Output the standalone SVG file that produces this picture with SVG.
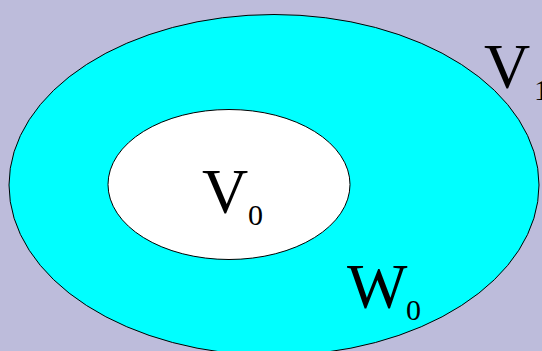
<svg xmlns="http://www.w3.org/2000/svg" width="542" height="351" viewBox="0 0 542 351">
<style>
.lbl{font-family:"Liberation Serif","Times New Roman",serif;fill:#000}
.big{font-size:64px}
.sub{font-size:30px}
.shape{stroke:#000;stroke-width:1}
</style>
<rect width="542" height="351" fill="#BDBCDB"/>
<g id="V1">
<ellipse class="shape" cx="274" cy="185" rx="265" ry="170.5" fill="#00FFFF"/>
<text class="lbl big" x="484" y="88">V</text>
<text class="lbl sub" x="534" y="100">1</text>
</g>
<g id="V0">
<ellipse class="shape" cx="229" cy="184.5" rx="121" ry="75" fill="#FFFFFF"/>
<text class="lbl big" x="202" y="213">V</text>
<text class="lbl sub" x="248" y="225">0</text>
</g>
<g id="W0">
<text class="lbl big" x="347" y="308">W</text>
<text class="lbl sub" x="406" y="320">0</text>
</g>
<g id="connectors"/>
</svg>
